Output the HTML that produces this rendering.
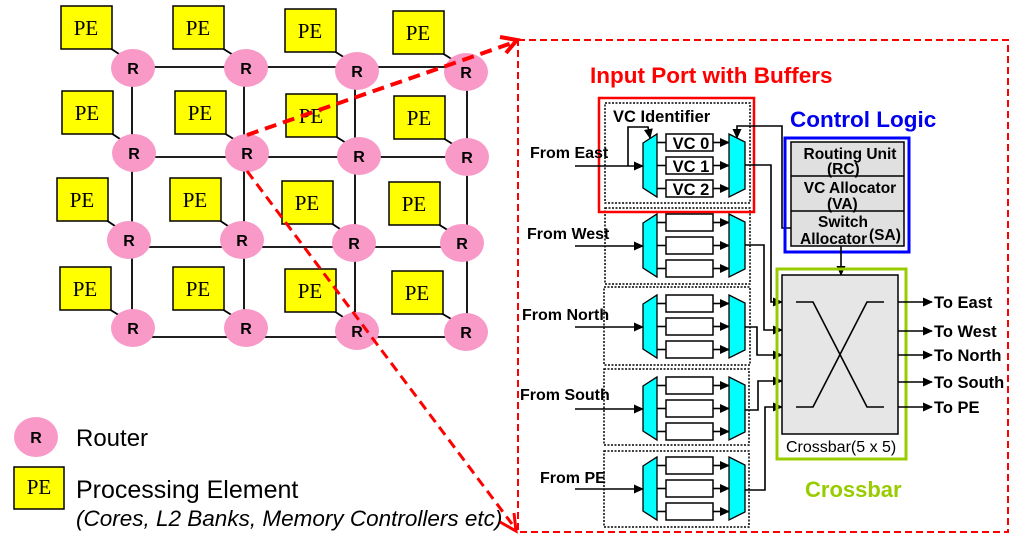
<!DOCTYPE html>
<html><head><meta charset="utf-8"><style>
html,body{margin:0;padding:0;background:#fff;}
svg{display:block;}
.pe{fill:#ffff00;stroke:#000;stroke-width:1.5;}
.pet{font-family:"Liberation Serif",serif;font-size:21px;fill:#000;text-anchor:middle;}
.r{fill:#f899c8;}
.rt{font-family:"Liberation Sans",sans-serif;font-weight:bold;font-size:16px;text-anchor:middle;}
.b{font-family:"Liberation Sans",sans-serif;font-weight:bold;font-size:16px;fill:#000;}
.ln{stroke:#000;stroke-width:1.6;fill:none;}
.mux{fill:#00ffff;stroke:#000;stroke-width:1.3;}
.buf{fill:#fff;stroke:#000;stroke-width:1.5;}
</style></head><body>
<svg width="1020" height="546" viewBox="0 0 1020 546" xmlns="http://www.w3.org/2000/svg">
<defs>
<marker id="a" markerWidth="10" markerHeight="10" refX="9" refY="4.5" orient="auto" markerUnits="userSpaceOnUse"><path d="M0,0 L10,4.5 L0,9 z" fill="#000"/></marker>
<g id="port">
<polyline class="ln" points="657,8.5 666,8.5"/><polyline class="ln" points="657,31.5 666,31.5"/><polyline class="ln" points="657,54.5 666,54.5"/>
<rect class="buf" x="666" y="0" width="47" height="17"/>
<rect class="buf" x="666" y="23" width="47" height="17"/>
<rect class="buf" x="666" y="46" width="47" height="17"/>
<line class="ln" x1="713" y1="8.5" x2="729" y2="8.5" marker-end="url(#a)"/>
<line class="ln" x1="713" y1="31.5" x2="729" y2="31.5" marker-end="url(#a)"/>
<line class="ln" x1="713" y1="54.5" x2="729" y2="54.5" marker-end="url(#a)"/>
<polygon class="mux" points="643,9 657,0 657,63 643,54"/>
<polygon class="mux" points="729,0 745,8 745,55 729,63"/>
<line class="ln" x1="575" y1="32" x2="643" y2="32" marker-end="url(#a)"/>
</g>
</defs>

<g class="ln" style="stroke-width:1.8">
<line x1="132" y1="67" x2="467" y2="67"/><line x1="132" y1="157" x2="467" y2="157"/>
<line x1="129" y1="247" x2="462" y2="247"/><line x1="132" y1="337" x2="467" y2="337"/>
<line x1="132" y1="68" x2="132" y2="330"/><line x1="244" y1="68" x2="244" y2="330"/>
<line x1="355" y1="70" x2="355" y2="332"/><line x1="467" y1="72" x2="467" y2="332"/>
<line x1="110" y1="48" x2="125" y2="58"/><line x1="222" y1="48" x2="238" y2="58"/><line x1="334" y1="51" x2="350" y2="61"/><line x1="442" y1="53" x2="458" y2="63"/>
<line x1="111" y1="133" x2="126" y2="143"/><line x1="224" y1="133" x2="240" y2="143"/><line x1="335" y1="136" x2="351" y2="146"/><line x1="443" y1="138" x2="459" y2="148"/>
<line x1="106" y1="220" x2="121" y2="230"/><line x1="219" y1="220" x2="234" y2="230"/><line x1="331" y1="223" x2="346" y2="233"/><line x1="438" y1="224" x2="454" y2="234"/>
<line x1="109" y1="309" x2="125" y2="319"/><line x1="222" y1="309" x2="238" y2="319"/><line x1="334" y1="311" x2="349" y2="321"/><line x1="441" y1="313" x2="458" y2="323"/>
</g>
<g>
<rect class="pe" x="61" y="6" width="51" height="43"/><text class="pet" x="86" y="35">PE</text>
<rect class="pe" x="173" y="6" width="51" height="43"/><text class="pet" x="198" y="35">PE</text>
<rect class="pe" x="285" y="9" width="51" height="43"/><text class="pet" x="310" y="38">PE</text>
<rect class="pe" x="393" y="11" width="51" height="43"/><text class="pet" x="418" y="40">PE</text>
<rect class="pe" x="62" y="91" width="51" height="43"/><text class="pet" x="87" y="120">PE</text>
<rect class="pe" x="175" y="91" width="51" height="43"/><text class="pet" x="200" y="120">PE</text>
<rect class="pe" x="286" y="94" width="51" height="43"/><text class="pet" x="311" y="123">PE</text>
<rect class="pe" x="394" y="96" width="51" height="43"/><text class="pet" x="419" y="125">PE</text>
<rect class="pe" x="57" y="178" width="51" height="43"/><text class="pet" x="82" y="207">PE</text>
<rect class="pe" x="170" y="178" width="51" height="43"/><text class="pet" x="195" y="207">PE</text>
<rect class="pe" x="282" y="181" width="51" height="43"/><text class="pet" x="307" y="210">PE</text>
<rect class="pe" x="389" y="182" width="51" height="43"/><text class="pet" x="414" y="211">PE</text>
<rect class="pe" x="60" y="267" width="51" height="43"/><text class="pet" x="85" y="296">PE</text>
<rect class="pe" x="173" y="267" width="51" height="43"/><text class="pet" x="198" y="296">PE</text>
<rect class="pe" x="285" y="269" width="51" height="43"/><text class="pet" x="310" y="298">PE</text>
<rect class="pe" x="392" y="271" width="51" height="43"/><text class="pet" x="417" y="300">PE</text>
</g>
<g>
<ellipse class="r" cx="133" cy="68" rx="22" ry="19"/><text class="rt" x="133" y="74">R</text>
<ellipse class="r" cx="246" cy="68" rx="22" ry="19"/><text class="rt" x="246" y="74">R</text>
<ellipse class="r" cx="357" cy="71" rx="22" ry="19"/><text class="rt" x="357" y="77">R</text>
<ellipse class="r" cx="466" cy="72" rx="22" ry="19"/><text class="rt" x="466" y="78">R</text>
<ellipse class="r" cx="134" cy="153" rx="22" ry="19"/><text class="rt" x="134" y="159">R</text>
<ellipse class="r" cx="247" cy="153" rx="22" ry="19"/><text class="rt" x="247" y="159">R</text>
<ellipse class="r" cx="359" cy="156" rx="22" ry="19"/><text class="rt" x="359" y="162">R</text>
<ellipse class="r" cx="467" cy="157" rx="22" ry="19"/><text class="rt" x="467" y="163">R</text>
<ellipse class="r" cx="129" cy="240" rx="22" ry="19"/><text class="rt" x="129" y="246">R</text>
<ellipse class="r" cx="242" cy="240" rx="22" ry="19"/><text class="rt" x="242" y="246">R</text>
<ellipse class="r" cx="354" cy="243" rx="22" ry="19"/><text class="rt" x="354" y="249">R</text>
<ellipse class="r" cx="462" cy="243" rx="22" ry="19"/><text class="rt" x="462" y="249">R</text>
<ellipse class="r" cx="133" cy="328" rx="22" ry="19"/><text class="rt" x="133" y="334">R</text>
<ellipse class="r" cx="246" cy="328" rx="22" ry="19"/><text class="rt" x="246" y="334">R</text>
<ellipse class="r" cx="357" cy="331" rx="22" ry="19"/><text class="rt" x="357" y="337">R</text>
<ellipse class="r" cx="466" cy="332" rx="22" ry="19"/><text class="rt" x="466" y="338">R</text>
</g>

<ellipse class="r" cx="36" cy="437" rx="22" ry="20"/><text class="rt" x="36" y="443">R</text>
<text x="76" y="446" font-family="Liberation Sans,sans-serif" font-size="24">Router</text>
<rect class="pe" x="14" y="467" width="50" height="42"/><text class="pet" x="39" y="494">PE</text>
<text x="76" y="498" font-family="Liberation Sans,sans-serif" font-size="25">Processing Element</text>
<text x="76" y="526" font-family="Liberation Sans,sans-serif" font-size="22.5" font-style="italic">(Cores, L2 Banks, Memory Controllers etc)</text>

<rect x="518" y="40" width="490" height="492" fill="none" stroke="#ff0000" stroke-width="2" stroke-dasharray="7,4"/>
<line x1="247" y1="135" x2="512" y2="43" stroke="#ff0000" stroke-width="4" stroke-dasharray="12,7"/>
<polyline points="500,37 517,40 506,53" fill="none" stroke="#ff0000" stroke-width="4"/>
<line x1="247" y1="171" x2="512" y2="524" stroke="#ff0000" stroke-width="3" stroke-dasharray="10,6"/>
<polyline points="500,522 516,531 514,513" fill="none" stroke="#ff0000" stroke-width="3"/>

<text x="590" y="83" font-family="Liberation Sans,sans-serif" font-weight="bold" font-size="22.5" fill="#ff0000">Input Port with Buffers</text>
<g fill="none" stroke="#000" stroke-width="1.5" stroke-dasharray="2,1.5">
<rect x="605" y="103" width="145" height="100"/>
<rect x="605" y="208" width="145" height="76"/>
<rect x="604" y="287" width="146" height="78"/>
<rect x="604" y="369" width="145" height="76"/>
<rect x="604" y="451" width="145" height="76"/>
</g>
<rect x="599" y="98" width="155" height="114" fill="none" stroke="#ff0000" stroke-width="2.5"/>
<text class="b" x="613" y="122" style="font-size:16.5px">VC Identifier</text>
<use href="#port" transform="translate(0,134)"/>
<use href="#port" transform="translate(0,214)"/>
<use href="#port" transform="translate(0,295)"/>
<use href="#port" transform="translate(0,377)"/>
<use href="#port" transform="translate(0,457)"/>
<g class="b">
<text x="691" y="149" text-anchor="middle" style="font-size:16.5px">VC 0</text>
<text x="691" y="172" text-anchor="middle" style="font-size:16.5px">VC 1</text>
<text x="691" y="195" text-anchor="middle" style="font-size:16.5px">VC 2</text>
<text x="530" y="158">From East</text>
<text x="527" y="239">From West</text>
<text x="522" y="320">From North</text>
<text x="520" y="400">From South</text>
<text x="540" y="483">From PE</text>
</g>
<polyline class="ln" points="628,166 628,127 648,127 650,138" marker-end="url(#a)"/>
<polyline class="ln" points="791,228 782,228 782,126 737,126 737,138" marker-end="url(#a)"/>

<polyline class="ln" points="745,165 771,165 771,302 782,302" marker-end="url(#a)"/>
<polyline class="ln" points="745,245 764,245 764,330 782,330" marker-end="url(#a)"/>
<polyline class="ln" points="745,327 757,327 757,355 782,355" marker-end="url(#a)"/>
<polyline class="ln" points="745,410 758,410 758,381 782,381" marker-end="url(#a)"/>
<polyline class="ln" points="745,490 765,490 765,407 782,407" marker-end="url(#a)"/>

<text x="790" y="127" font-family="Liberation Sans,sans-serif" font-weight="bold" font-size="22.5" fill="#0000ee">Control Logic</text>
<rect x="785" y="138" width="124" height="114" fill="none" stroke="#0000ff" stroke-width="3"/>
<rect x="791" y="142" width="113" height="104" fill="#e0e0e0" stroke="#000" stroke-width="1.5"/>
<line class="ln" x1="791" y1="176" x2="904" y2="176"/>
<line class="ln" x1="791" y1="211" x2="904" y2="211"/>
<g class="b" style="font-size:15.5px">
<text x="850" y="159" text-anchor="middle">Routing Unit</text>
<text x="827" y="174">(RC)</text>
<text x="850" y="193" text-anchor="middle">VC Allocator</text>
<text x="827" y="209">(VA)</text>
<text x="843" y="227" text-anchor="middle">Switch</text>
<text x="800" y="244">Allocator</text>
<text x="869" y="240">(SA)</text>
</g>
<line class="ln" x1="841" y1="246" x2="841" y2="275" marker-end="url(#a)"/>

<rect x="777" y="269" width="129" height="190" fill="none" stroke="#99cc00" stroke-width="3"/>
<rect x="782" y="275" width="116" height="159" fill="#e6e6e6" stroke="#000" stroke-width="1.5"/>
<polyline class="ln" points="796,302 813,302 867,407 884,407"/>
<polyline class="ln" points="796,407 813,407 867,302 884,302"/>
<text x="786" y="452" font-family="Liberation Sans,sans-serif" font-size="16" fill="#000">Crossbar(5 x 5)</text>
<text x="805" y="497" font-family="Liberation Sans,sans-serif" font-weight="bold" font-size="22" fill="#99cc00">Crossbar</text>
<g>
<line class="ln" x1="898" y1="302" x2="932" y2="302" marker-end="url(#a)"/>
<line class="ln" x1="898" y1="331" x2="932" y2="331" marker-end="url(#a)"/>
<line class="ln" x1="898" y1="355" x2="932" y2="355" marker-end="url(#a)"/>
<line class="ln" x1="898" y1="382" x2="932" y2="382" marker-end="url(#a)"/>
<line class="ln" x1="898" y1="407" x2="932" y2="407" marker-end="url(#a)"/>
</g>
<g class="b" style="font-size:16.5px">
<text x="934" y="308">To East</text>
<text x="934" y="337">To West</text>
<text x="934" y="361">To North</text>
<text x="934" y="388">To South</text>
<text x="934" y="413">To PE</text>
</g>
</svg>
</body></html>
